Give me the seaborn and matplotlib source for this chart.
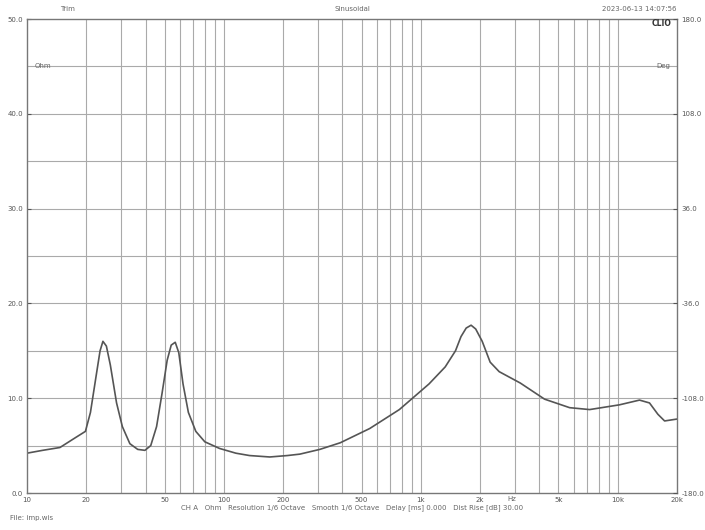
import matplotlib
matplotlib.use('Agg')
import matplotlib.pyplot as plt
import seaborn as sns
import pandas as pd
from matplotlib.ticker import FixedLocator, NullLocator

# impedance curve (Hz, Ohm)
freq = [10, 12, 14.7, 17.5, 19.8, 21, 22.5, 23.5, 24.3, 25.3, 26.5, 28.5, 30.5, 33.3,
        36.5, 39.7, 42.5, 45.5, 48.5, 51.5, 54, 56.6, 59, 62, 66, 72, 80, 95,
        115, 135, 171, 210, 243, 307, 390, 550, 778, 1100, 1330, 1500, 1600, 1700,
        1800, 1900, 2050, 2250, 2500, 3200, 4250, 5700, 7200, 10200, 12900,
        14500, 16000, 17300, 20000]
ohm = [4.2, 4.5, 4.8, 5.8, 6.5, 8.5, 12.5, 15.0, 16.0, 15.5, 13.5, 9.5, 7.0, 5.2,
       4.6, 4.5, 5.0, 7.0, 10.5, 14.0, 15.6, 15.9, 14.8, 11.5, 8.5, 6.5, 5.4, 4.7,
       4.2, 3.95, 3.8, 3.95, 4.1, 4.6, 5.3, 6.8, 8.8, 11.5, 13.3, 15.0, 16.5, 17.4,
       17.7, 17.3, 16.0, 13.8, 12.8, 11.6, 9.9, 9.0, 8.8, 9.3, 9.8,
       9.5, 8.3, 7.6, 7.8]

xticks = [10, 20, 50, 100, 200, 500, 1000, 2000, 5000, 10000, 20000]
xticklabels = ['10', '20', '50', '100', '200', '500', '1k', '2k', '5k', '10k', '20k']
grid_freqs = [20, 30, 40, 50, 60, 70, 80, 90, 100, 200, 300, 400, 500, 600, 700, 800,
              900, 1000, 2000, 3000, 4000, 5000, 6000, 7000, 8000, 9000, 10000]
yticks = [0, 10, 20, 30, 40, 50]
yticklabels = ['0.0', '10.0', '20.0', '30.0', '40.0', '50.0']
deg_labels = ['-180.0', '-108.0', '-36.0', '36.0', '108.0', '180.0']

df = pd.DataFrame({'freq': freq, 'ohm': ohm})

sns.set_style('white')
plt.rcParams['font.family'] = ['DejaVu Sans']

fig = plt.figure(figsize=(7.05, 5.3), dpi=100)
ax = fig.add_axes([27 / 705, 37 / 530, 650 / 705, 474 / 530])

sns.lineplot(data=df, x='freq', y='ohm', ax=ax, color='#555555', linewidth=1.2)

ax.set_xscale('log')
ax.set_xlim(10, 20000)
ax.set_ylim(0, 50)

for f in grid_freqs:
    ax.axvline(f, color='#aaaaaa', linewidth=0.8, zorder=0)
for y in range(5, 50, 5):
    ax.axhline(y, color='#aaaaaa', linewidth=0.8, zorder=0)

ax.xaxis.set_major_locator(FixedLocator(xticks))
ax.xaxis.set_minor_locator(NullLocator())
ax.set_xticklabels(xticklabels)
ax.set_yticks(yticks)
ax.set_yticklabels(yticklabels)
ax.tick_params(labelsize=5, colors='#555555', length=3, direction='in', pad=3)
ax.set_xlabel('')
ax.set_ylabel('')
for s in ax.spines.values():
    s.set_color('#777777')
    s.set_linewidth(1.0)

ax2 = ax.twinx()
ax2.set_ylim(-180, 180)
ax2.set_yticks([-180, -108, -36, 36, 108, 180])
ax2.set_yticklabels(deg_labels)
ax2.tick_params(labelsize=5, colors='#555555', length=3, direction='in', pad=3)
for s in ax2.spines.values():
    s.set_visible(False)

txt = dict(fontsize=5, color='#666666')
fig.text(60 / 705, 1 - 9 / 530, 'Trim', ha='left', va='center', **txt)
fig.text(352 / 705, 1 - 9 / 530, 'Sinusoidal', ha='center', va='center', **txt)
fig.text(677 / 705, 1 - 9 / 530, '2023-06-13 14:07:56', ha='right', va='center', **txt)
fig.text(35 / 705, 1 - 66 / 530, 'Ohm', ha='left', va='center', **txt)
fig.text(670 / 705, 1 - 66 / 530, 'Deg', ha='right', va='center', **txt)
fig.text(672 / 705, 1 - 24 / 530, 'CLIO', ha='right', va='center', fontsize=5.5,
         color='#333333', fontweight='bold')
fig.text(512 / 705, 1 - 499 / 530, 'Hz', ha='center', va='center', **txt)
fig.text(352 / 705, 1 - 508 / 530,
         'CH A   Ohm   Resolution 1/6 Octave   Smooth 1/6 Octave   Delay [ms] 0.000   Dist Rise [dB] 30.00',
         ha='center', va='center', **txt)
fig.text(10 / 705, 1 - 518 / 530, 'File: imp.wis', ha='left', va='center', **txt)

fig.savefig('out.png', dpi=100, facecolor='white')
